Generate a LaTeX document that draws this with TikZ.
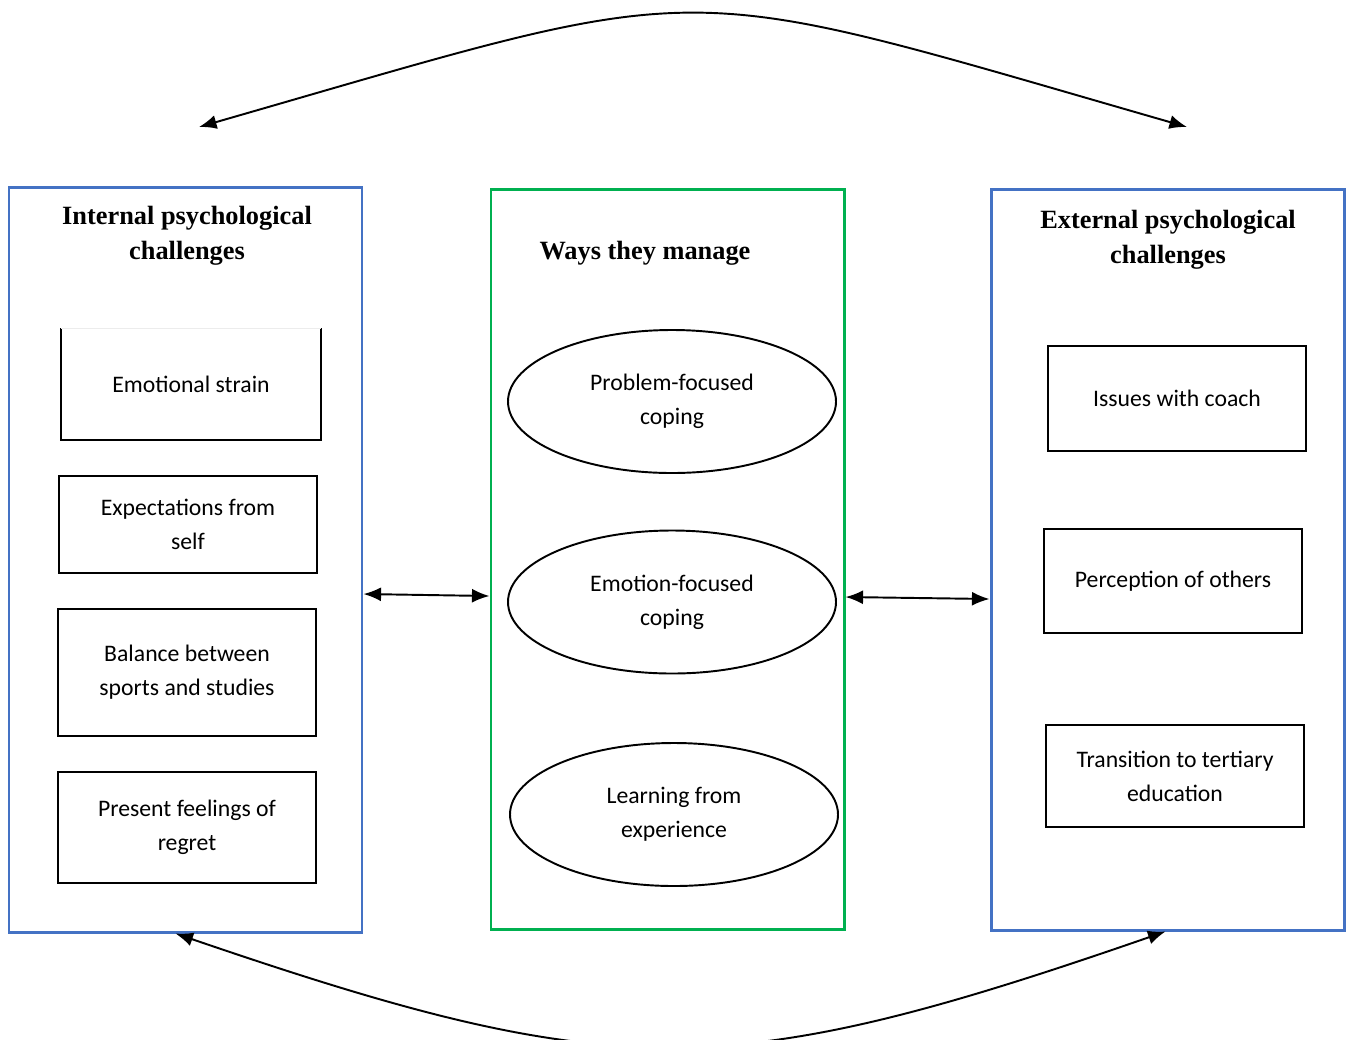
\documentclass[tikz,border=0pt]{standalone}
\usepackage{fontspec}
\setmainfont{Liberation Serif}
\newfontfamily\bodyfont{Carlito}
\usepackage{tikz}
\usetikzlibrary{arrows.meta,shapes.geometric}
\definecolor{panelblue}{RGB}{68,114,196}
\definecolor{panelgreen}{RGB}{0,176,80}
\newcommand*\px{0.02cm}
\newcommand*\itemwd{258*\px}
\tikzset{
    panel/.style      = {draw,rectangle,line width=1.7pt,minimum width=353*\px},
    bluepanel/.style  = {panel,draw=panelblue},
    greenpanel/.style = {panel,draw=panelgreen},
    paneltitle/.style = {align=center,font=\fontsize{15}{19.8}\selectfont\bfseries},
    item/.style       = {draw,rectangle,line width=1.1pt,minimum width=\itemwd,
                        align=center,font=\bodyfont\fontsize{13.5}{19.3}\selectfont},
    way/.style        = {item,ellipse,minimum width=328*\px,minimum height=143*\px,inner sep=0pt},
    link/.style       = {line width=1.1pt,{Latex[length=10pt,width=8pt]}-{Latex[length=10pt,width=8pt]}},
  }
\begin{document}
\begin{tikzpicture}[x=\px,y=-\px]
        % Fix the page to the size of the figure
        \clip (0,0) rectangle (1352,1039);

        % The three panels
        \node[bluepanel,minimum height=745*\px]  (internal) at (185.5,559.5) {};
        \node[greenpanel,minimum height=740*\px] (manage)   at (667.5,559)   {};
        \node[bluepanel,minimum height=741*\px]  (external) at (1167.5,559.5) {};

        % Panel titles
        \node[paneltitle] (internaltitle) at (187,236)  {Internal psychological\\challenges};
        \node[paneltitle] (managetitle)   at (645,253)  {Ways they manage};
        \node[paneltitle] (externaltitle) at (1168,240) {External psychological\\challenges};

        % Left column: internal challenges (first box has no top edge)
        \node[item,draw=none,minimum height=110*\px] (strain) at (191,384) {Emotional strain};
        \draw[line width=1.1pt] (strain.north west) -- (strain.south west)
            -- (strain.south east) -- (strain.north east);
        \draw[gray!15,thin] (strain.north west) -- (strain.north east);
        \node[item,minimum height=97*\px]  (selfexp) at (188,524.5) {Expectations from\\self};
        \node[item,minimum height=127*\px] (balance) at (187,672.5) {Balance between\\sports and studies};
        \node[item,minimum height=111*\px] (regret)  at (187,827.5) {Present feelings of\\regret};

        % Middle column: ways of coping
        \node[way] (problem)  at (672,401.5) {Problem-focused\\coping};
        \node[way] (emotion)  at (672,602)   {Emotion-focused\\coping};
        \node[way] (learning) at (674,814.5) {Learning from\\experience};

        % Right column: external challenges
        \node[item,minimum height=105*\px] (coach)     at (1177,398.5) {Issues with coach};
        \node[item,minimum height=104*\px] (others)    at (1173,581)   {Perception of others};
        \node[item,minimum height=102*\px] (tertiary)  at (1175,776)   {Transition to tertiary\\education};

        % Links between the panels
        \draw[link] ([yshift=-34.5*\px]internal.east) -- ([yshift=-37*\px]manage.west);
        \draw[link] ([yshift=-38*\px]manage.east) -- ([yshift=-39.5*\px]external.west);

        % Curved links between the outer panels
        \coordinate (topleft)  at (199,127);
        \coordinate (topright) at (1187,127);
        \draw[link] (topleft) .. controls (724,-24) and (662,-24) .. (topright);
        \draw[link] ([xshift=-10*\px]internal.south) .. controls (615,1084) and (726,1084)
            .. ([xshift=-2*\px]external.south);
    \end{tikzpicture}
\end{document}
